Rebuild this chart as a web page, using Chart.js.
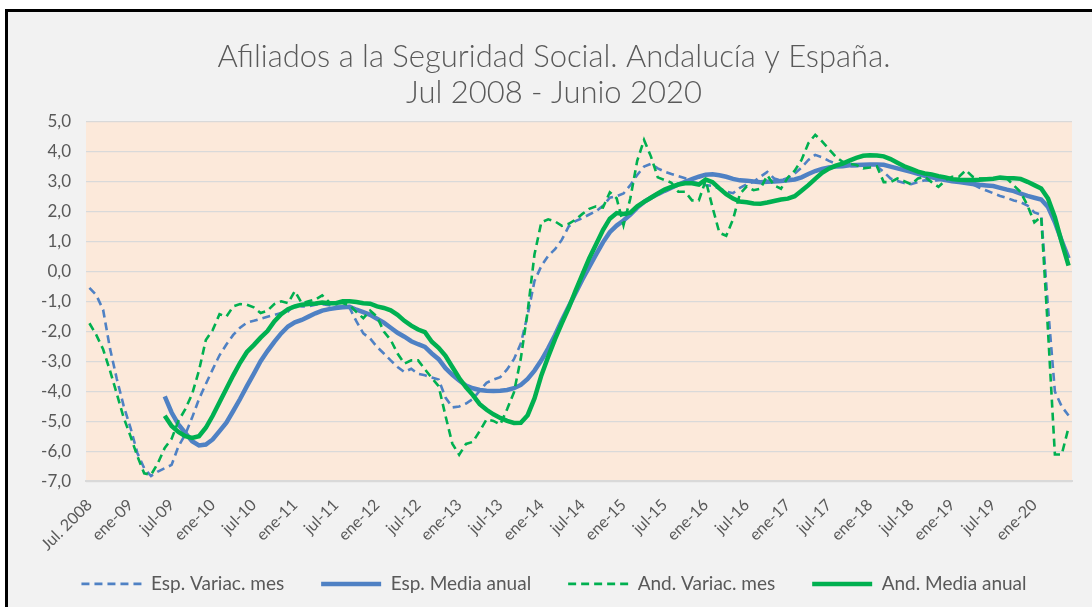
<!DOCTYPE html>
<html lang="es">
<head>
<meta charset="UTF-8">
<title>Afiliados a la Seguridad Social</title>
<script src="https://cdn.jsdelivr.net/npm/chart.js@4.4.0/dist/chart.umd.min.js"></script>
<style>
  html, body { margin: 0; padding: 0; background: #fff; overflow: hidden; }
  .frame { position: absolute; left: 5px; top: 9px; width: 1100px; height: 620px;
           border-left: 3px solid #000; border-top: 3px solid #000; background: #f2f2f2; }
  .wrap { position: absolute; left: 0; top: 0; width: 1092px; height: 607px; }
</style>
</head>
<body>
<div class="frame"></div>
<div class="wrap"><canvas id="chart"></canvas></div>
<script>
// meses jul 2008 - jun 2020
var meses = ['ene', 'feb', 'mar', 'abr', 'may', 'jun', 'jul', 'ago', 'sep', 'oct', 'nov', 'dic'];
var labels = [];
for (var k = 0; k < 144; k++) {
    var m = (6 + k) % 12;
    var y = 8 + Math.floor((6 + k) / 12);
    labels.push(k === 0 ? 'Jul. 2008' : meses[m] + '-' + (y < 10 ? '0' + y : y));
}

var espMes = [
    -0.54, -0.78, -1.27, -2.56, -3.58, -4.48, -5.21, -6.05, -6.56, -6.82, -6.67, -6.56,
    -6.45, -5.83, -5.43, -4.87, -4.25, -3.75, -3.26, -2.79, -2.43, -2.11, -1.87, -1.70,
    -1.64, -1.57, -1.50, -1.44, -1.38, -1.33, -1.08, -1.16, -1.16, -1.10, -1.08, -1.12,
    -1.16, -1.16, -1.21, -1.66, -2.06, -2.23, -2.51, -2.73, -2.96, -3.18, -3.35, -3.24,
    -3.41, -3.46, -3.53, -3.60, -4.20, -4.53, -4.50, -4.40, -4.25, -3.97, -3.71, -3.60,
    -3.52, -3.26, -2.92, -2.40, -1.44, -0.31, 0.19, 0.53, 0.75, 1.07, 1.51, 1.69,
    1.79, 1.91, 2.02, 2.20, 2.47, 2.52, 2.61, 2.89, 3.23, 3.51, 3.60, 3.45,
    3.34, 3.26, 3.19, 3.12, 3.00, 2.95, 2.89, 2.86, 2.78, 2.67, 2.62, 2.80,
    2.92, 3.00, 3.17, 3.33, 3.11, 3.05, 3.13, 3.28, 3.48, 3.73, 3.90, 3.82,
    3.70, 3.61, 3.56, 3.52, 3.52, 3.55, 3.56, 3.52, 3.33, 3.11, 3.03, 2.96,
    2.92, 2.99, 3.05, 3.03, 3.05, 3.11, 3.07, 3.03, 2.99, 2.92, 2.80, 2.71,
    2.62, 2.53, 2.46, 2.38, 2.32, 2.21, 1.98, 1.90, -1.20, -4.00, -4.50, -4.80
];

var espMedia = [
    null, null, null, null, null, null, null, null, null, null, null, -4.16,
    -4.70, -5.10, -5.38, -5.66, -5.80, -5.77, -5.60, -5.32, -5.04, -4.65, -4.25, -3.82,
    -3.41, -2.99, -2.65, -2.34, -2.06, -1.83, -1.69, -1.61, -1.50, -1.39, -1.30, -1.25,
    -1.21, -1.19, -1.17, -1.27, -1.35, -1.44, -1.57, -1.70, -1.87, -2.04, -2.17, -2.32,
    -2.42, -2.51, -2.73, -2.92, -3.22, -3.44, -3.63, -3.80, -3.89, -3.95, -3.97, -3.98,
    -3.97, -3.95, -3.89, -3.78, -3.58, -3.30, -2.96, -2.56, -2.11, -1.62, -1.16, -0.71,
    -0.26, 0.16, 0.58, 0.98, 1.32, 1.54, 1.71, 1.91, 2.14, 2.33, 2.47, 2.59,
    2.70, 2.80, 2.91, 3.00, 3.09, 3.17, 3.24, 3.25, 3.22, 3.17, 3.10, 3.05,
    3.04, 3.01, 2.99, 3.00, 3.01, 3.03, 3.05, 3.08, 3.15, 3.26, 3.36, 3.43,
    3.48, 3.51, 3.52, 3.55, 3.56, 3.57, 3.58, 3.58, 3.57, 3.51, 3.45, 3.39,
    3.33, 3.27, 3.20, 3.15, 3.10, 3.06, 3.02, 2.99, 2.96, 2.93, 2.90, 2.88,
    2.86, 2.80, 2.74, 2.69, 2.61, 2.53, 2.47, 2.41, 2.16, 1.65, 1.03, 0.45
];

var andMes = [
    -1.72, -2.11, -2.59, -3.30, -4.08, -4.87, -5.49, -6.16, -6.73, -6.78, -6.39, -5.88,
    -5.58, -4.98, -4.59, -4.08, -3.30, -2.28, -1.95, -1.42, -1.50, -1.16, -1.08, -1.10,
    -1.19, -1.38, -1.30, -1.08, -0.99, -1.05, -0.65, -1.05, -0.99, -0.93, -0.79, -1.01,
    -1.05, -1.05, -1.12, -1.35, -1.55, -1.30, -1.50, -2.00, -2.28, -2.73, -3.07, -2.96,
    -2.96, -3.26, -3.55, -3.82, -4.81, -5.74, -6.11, -5.75, -5.68, -5.32, -4.93, -4.98,
    -5.10, -4.59, -4.03, -2.90, -1.33, 0.58, 1.65, 1.75, 1.68, 1.53, 1.60, 1.74,
    1.93, 2.10, 2.18, 2.14, 2.65, 2.45, 1.55, 2.45, 3.70, 4.40, 3.85, 3.15,
    3.06, 2.97, 2.67, 2.67, 2.38, 2.38, 3.05, 2.15, 1.30, 1.20, 1.75, 2.60,
    2.85, 2.72, 2.77, 3.22, 2.88, 2.77, 3.14, 3.37, 3.73, 4.29, 4.57, 4.35,
    4.09, 3.84, 3.67, 3.61, 3.56, 3.45, 3.48, 3.52, 2.99, 2.99, 3.11, 3.02,
    2.92, 3.11, 3.17, 2.99, 2.83, 3.05, 3.17, 3.17, 3.39, 3.17, 3.11, 3.11,
    3.11, 3.13, 3.11, 2.88, 2.66, 2.21, 1.65, 1.84, -2.00, -6.10, -6.10, -5.20
];

var andMedia = [
    null, null, null, null, null, null, null, null, null, null, null, -4.81,
    -5.15, -5.35, -5.49, -5.55, -5.49, -5.21, -4.81, -4.36, -3.91, -3.46, -3.04, -2.68,
    -2.45, -2.20, -1.98, -1.66, -1.42, -1.25, -1.16, -1.10, -1.08, -1.06, -1.03, -1.05,
    -1.05, -0.99, -0.99, -1.01, -1.05, -1.07, -1.16, -1.21, -1.29, -1.44, -1.64, -1.80,
    -1.93, -2.02, -2.34, -2.54, -2.81, -3.18, -3.55, -3.86, -4.12, -4.42, -4.61, -4.76,
    -4.88, -4.98, -5.05, -5.04, -4.79, -4.23, -3.46, -2.84, -2.25, -1.72, -1.21, -0.63,
    -0.09, 0.45, 0.92, 1.39, 1.77, 1.96, 1.93, 1.97, 2.18, 2.33, 2.47, 2.61,
    2.74, 2.83, 2.91, 2.95, 2.95, 2.91, 3.08, 2.99, 2.78, 2.59, 2.44, 2.34,
    2.32, 2.28, 2.27, 2.31, 2.36, 2.41, 2.44, 2.52, 2.70, 2.89, 3.10, 3.30,
    3.44, 3.54, 3.61, 3.71, 3.80, 3.87, 3.89, 3.88, 3.85, 3.76, 3.64, 3.52,
    3.43, 3.34, 3.28, 3.25, 3.19, 3.15, 3.09, 3.07, 3.06, 3.06, 3.07, 3.09,
    3.10, 3.14, 3.12, 3.12, 3.10, 3.00, 2.89, 2.78, 2.44, 1.82, 0.98, 0.20
];

var azul = '#4f81c4';
var verde = '#00b050';
var gris = '#595959';

Chart.defaults.font.family = 'Lato, "Open Sans", sans-serif';
Chart.defaults.color = gris;

// fondo del area de trazado + que las etiquetas del eje x no se recorten
var fondo = {
    id: 'fondo',
    afterLayout: function (chart) {
        chart.scales.x.bottom = chart.height;
    },
    beforeDraw: function (chart) {
        var a = chart.chartArea;
        var ctx = chart.ctx;
        ctx.save();
        ctx.fillStyle = '#fce9da';
        ctx.fillRect(a.left, a.top, a.right - a.left, a.bottom - a.top);
        ctx.restore();
    }
};

var ctx = document.getElementById('chart');
new Chart(ctx, {
    type: 'line',
    data: {
        labels: labels,
        datasets: [
            { label: 'Esp. Variac. mes', data: espMes, borderColor: azul, backgroundColor: azul,
              borderWidth: 2.6, borderDash: [8, 5], order: 4 },
            { label: 'Esp. Media anual', data: espMedia, borderColor: azul, backgroundColor: azul,
              borderWidth: 4.5, order: 3 },
            { label: 'And. Variac. mes', data: andMes, borderColor: verde, backgroundColor: verde,
              borderWidth: 2.6, borderDash: [8, 5], order: 2 },
            { label: 'And. Media anual', data: andMedia, borderColor: verde, backgroundColor: verde,
              borderWidth: 4.5, order: 1 }
        ]
    },
    options: {
        responsive: true,
        maintainAspectRatio: false,
        animation: false,
        elements: { point: { radius: 0 }, line: { tension: 0 } },
        layout: { padding: { left: 36, right: 20, top: 20, bottom: 3.6 } },
        plugins: {
            title: {
                display: true,
                text: ['Afiliados a la Seguridad Social. Andalucía y España.', 'Jul 2008 - Junio 2020'],
                font: { size: 31, weight: '300', lineHeight: 1.16 },
                color: gris,
                padding: { top: 19, bottom: 11 }
            },
            legend: {
                position: 'bottom',
                labels: {
                    usePointStyle: true,
                    pointStyleWidth: 60,
                    boxWidth: 60,
                    padding: 37,
                    font: { size: 19 },
                    color: gris,
                    generateLabels: function (chart) {
                        return chart.data.datasets.map(function (ds, i) {
                            return {
                                text: ds.label,
                                datasetIndex: i,
                                strokeStyle: ds.borderColor,
                                fillStyle: ds.borderColor,
                                lineWidth: ds.borderWidth,
                                lineDash: ds.borderDash || [],
                                pointStyle: 'line',
                                fontColor: gris,
                                hidden: false
                            };
                        });
                    }
                }
            },
            tooltip: { enabled: false }
        },
        scales: {
            x: {
                offset: true,
                grid: { display: false },
                border: { display: true, color: '#d9d9d9', width: 2 },
                ticks: {
                    autoSkip: false,
                    maxRotation: 45,
                    minRotation: 45,
                    padding: 6,
                    font: { size: 16 },
                    color: gris,
                    callback: function (val, idx) {
                        return idx % 6 === 0 ? labels[idx] : '';
                    }
                },
                afterFit: function (s) { s.height = 56; }
            },
            y: {
                min: -7,
                max: 5,
                border: { display: false },
                grid: { color: '#d9d9d9', lineWidth: 1.3, drawTicks: false },
                ticks: {
                    stepSize: 1,
                    padding: 15,
                    font: { size: 17 },
                    color: gris,
                    callback: function (v) { return v.toFixed(1).replace('.', ','); }
                },
                afterFit: function (s) { s.width = 50; }
            }
        }
    },
    plugins: [fondo]
});
</script>
</body>
</html>
